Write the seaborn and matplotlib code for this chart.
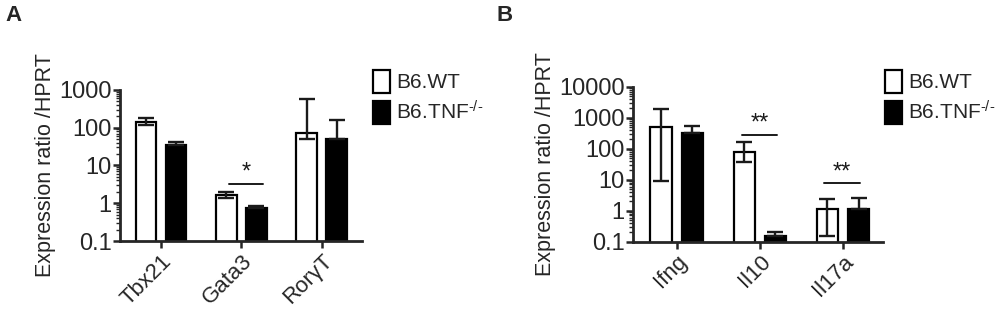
import numpy as np
import pandas as pd
import matplotlib
matplotlib.use('Agg')
import matplotlib.pyplot as plt
import seaborn as sns
from matplotlib.patches import Patch
from matplotlib.ticker import FuncFormatter, LogLocator

sns.set_style('ticks')
plt.rcParams['font.family'] = ['Liberation Sans', 'DejaVu Sans']
plt.rcParams['mathtext.fontset'] = 'custom'
plt.rcParams['mathtext.rm'] = 'Liberation Sans'
plt.rcParams['mathtext.it'] = 'Liberation Sans'

# data
groups = ['B6.WT', 'B6.TNF']
legend_labels = ['B6.WT', 'B6.TNF$^{\\text{-/-}}$']

genes_a = ['Tbx21', 'Gata3', 'RorγT']
wt_a = [140, 1.67, 72]
wt_a_lo = [25, 0.31, 22]
wt_a_hi = [38, 0.36, 513]
ko_a = [34, 0.76, 50]
ko_a_lo = [0, 0, 0]
ko_a_hi = [9, 0.1, 112]

genes_b = ['Ifng', 'Il10', 'Il17a']
wt_b = [490, 80, 1.12]
wt_b_lo = [481, 42, 0.97]
wt_b_hi = [1410, 85, 1.21]
ko_b = [330, 0.15, 1.12]
ko_b_lo = [0, 0, 0]
ko_b_hi = [210, 0.05, 1.38]

# significance brackets: (x0, x1, y, label)
sig_a = [(0.84, 1.27, 3.2, '*')]
sig_b = [(0.78, 1.21, 275, '**'), (1.77, 2.20, 7.6, '**')]


def panel(ax, genes, wt, wt_lo, wt_hi, ko, ko_lo, ko_hi, ymax, sigs, xlim):
    df = pd.DataFrame({
        'gene': genes * 2,
        'group': [groups[0]] * len(genes) + [groups[1]] * len(genes),
        'value': list(wt) + list(ko),
    })
    ax.set_yscale('log')
    sns.barplot(data=df, x='gene', y='value', hue='group', hue_order=groups,
                palette={'B6.WT': 'white', 'B6.TNF': 'black'},
                edgecolor='black', linewidth=1.6, width=0.75, gap=0.31,
                errorbar=None, legend=False, ax=ax, zorder=2)
    errs = [(wt, wt_lo, wt_hi), (ko, ko_lo, ko_hi)]
    for cont, (vals, lo, hi) in zip(ax.containers, errs):
        for bar, v, l, h in zip(cont, vals, lo, hi):
            xc = bar.get_x() + bar.get_width() / 2
            ax.errorbar(xc, v, yerr=[[l], [h]], fmt='none', ecolor='#1a1a1a',
                        elinewidth=1.7, capsize=5.5, capthick=1.7, zorder=3)
    for x0, x1, y, lab in sigs:
        ax.plot([x0, x1], [y, y], color='#1a1a1a', lw=1.4, clip_on=False)
        ax.text((x0 + x1) / 2, y * 1.02, lab, ha='center', va='bottom',
                fontsize=17, color='#1a1a1a')
    ax.set_ylim(0.1, ymax)
    ax.set_xlim(*xlim)
    ax.yaxis.set_major_locator(LogLocator(base=10, numticks=10))
    ax.yaxis.set_minor_locator(LogLocator(base=10, subs=np.arange(2, 10), numticks=20))
    ax.yaxis.set_major_formatter(FuncFormatter(lambda v, p: '{:g}'.format(v)))
    ax.set_xlabel('')
    ax.set_ylabel('Expression ratio /HPRT', fontsize=15.5, labelpad=2)
    ax.tick_params(axis='y', which='major', labelsize=17, length=5, width=1.8, pad=1)
    ax.tick_params(axis='y', which='minor', length=3, width=1.0)
    ax.tick_params(axis='x', labelsize=16, length=5, width=1.8, pad=2)
    for lbl in ax.get_xticklabels():
        lbl.set_rotation(45)
        lbl.set_ha('right')
        lbl.set_rotation_mode('anchor')
    sns.despine(ax=ax)
    for s in ['left', 'bottom']:
        ax.spines[s].set_linewidth(2)


fig = plt.figure(figsize=(10, 3.11), dpi=100)
ax_a = fig.add_axes([0.120, 0.225, 0.242, 0.486])
ax_b = fig.add_axes([0.633, 0.223, 0.250, 0.498])

panel(ax_a, genes_a, wt_a, wt_a_lo, wt_a_hi, ko_a, ko_a_lo, ko_a_hi, 1000, sig_a, (-0.51, 2.5))
panel(ax_b, genes_b, wt_b, wt_b_lo, wt_b_hi, ko_b, ko_b_lo, ko_b_hi, 10000, sig_b, (-0.525, 2.48))

handles = [Patch(facecolor='white', edgecolor='black', linewidth=1.6),
           Patch(facecolor='black', edgecolor='black', linewidth=1.6)]
for ax, x0 in [(ax_a, 0.373), (ax_b, 0.885)]:
    ax.legend(handles, legend_labels, loc='upper left', bbox_to_anchor=(x0, 1 - 70 / 311),
              bbox_transform=fig.transFigure, frameon=False, fontsize=15,
              handlelength=0.8, handleheight=1.3, handletextpad=0.3,
              borderaxespad=0, borderpad=0, labelspacing=0.35)

fig.text(0.005, 0.985, 'A', fontsize=16, fontweight='bold', va='top', ha='left')
fig.text(0.496, 0.985, 'B', fontsize=16, fontweight='bold', va='top', ha='left')

fig.savefig('out.png', dpi=100)
